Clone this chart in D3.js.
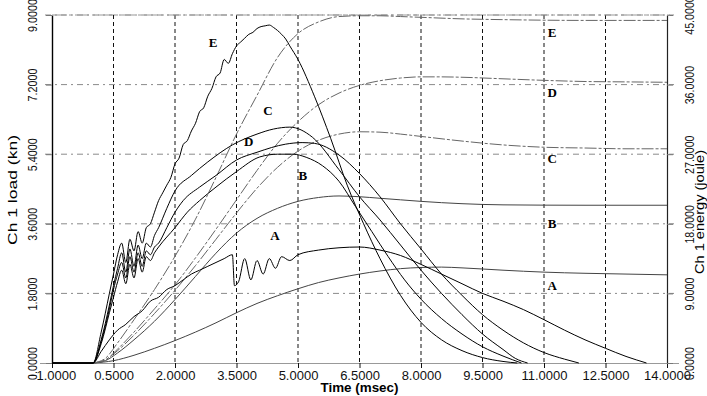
<!DOCTYPE html>
<html>
<head>
<meta charset="utf-8">
<script src="https://cdn.jsdelivr.net/npm/d3@7"></script>
<style>
  body { margin: 0; background: #fff; }
  svg { display: block; font-family: "Liberation Sans", Arial, sans-serif; }
</style>
</head>
<body>
<svg id="chart" width="707" height="396"></svg>
<script>
// ticks
const xTicks = [-1, 0.5, 2, 3.5, 5, 6.5, 8, 9.5, 11, 12.5, 14]
const loadTicks = [0, 1.8, 3.6, 5.4, 7.2, 9]
const energyTicks = [0, 9, 18, 27, 36, 45]

// load curves, [time msec, load kN]
const loadA = [[-1, 0], [0, 0], [0.2, 0.3], [0.4, 0.6], [0.6, 0.85], [0.8, 1.0], [1.0, 1.2], [1.2, 1.35], [1.4, 1.6], [1.6, 1.7], [1.8, 1.9], [2.0, 2.0], [2.2, 2.15], [2.4, 2.3], [2.6, 2.4], [2.8, 2.5], [3.0, 2.6], [3.2, 2.7], [3.4, 2.8], [3.45, 2.0], [3.55, 2.1], [3.7, 2.7], [3.85, 2.15], [4.0, 2.65], [4.15, 2.3], [4.3, 2.7], [4.45, 2.45], [4.6, 2.75], [4.8, 2.65], [5.0, 2.8], [5.5, 2.92], [6.0, 2.98], [6.5, 3.0], [7.0, 2.92], [7.5, 2.78], [8.0, 2.55], [8.5, 2.3], [9.0, 2.05], [9.5, 1.8], [10.0, 1.6], [10.5, 1.38], [11.0, 1.12], [11.5, 0.85], [12.0, 0.6], [12.5, 0.38], [13.0, 0.17], [13.5, 0]]
const loadB = [[-1, 0], [0, 0], [0.2, 0.5], [0.4, 1.3], [0.5, 1.7], [0.6, 2.1], [0.7, 2.4], [0.8, 2.05], [0.9, 2.55], [1.0, 2.2], [1.1, 2.7], [1.2, 2.35], [1.3, 2.75], [1.4, 2.65], [1.5, 2.85], [1.6, 3.0], [2.0, 3.5], [2.3, 3.9], [2.6, 4.2], [3.0, 4.55], [3.5, 4.95], [4.07, 5.33], [4.5, 5.4], [4.88, 5.4], [5.2, 5.32], [5.6, 5.1], [6.0, 4.7], [6.4, 4.05], [6.8, 3.4], [7.2, 2.75], [7.6, 2.15], [8.0, 1.65], [8.5, 1.15], [9.0, 0.75], [9.5, 0.42], [10.0, 0.18], [10.45, 0]]
const loadC = [[-1, 0], [0, 0], [0.2, 0.6], [0.4, 1.5], [0.5, 2.0], [0.6, 2.45], [0.7, 2.85], [0.8, 2.35], [0.9, 2.95], [1.0, 2.5], [1.1, 3.05], [1.2, 2.7], [1.3, 3.1], [1.4, 3.0], [1.5, 3.3], [1.6, 3.5], [1.8, 4.0], [2.0, 4.45], [2.4, 4.85], [2.8, 5.2], [3.4, 5.64], [4.0, 5.92], [4.4, 6.05], [4.8, 6.1], [5.35, 5.84], [6.0, 5.0], [6.5, 4.3], [7.0, 3.7], [7.5, 3.05], [8.0, 2.4], [8.5, 1.8], [9.0, 1.25], [9.5, 0.75], [10.0, 0.35], [10.3, 0.12], [10.6, 0]]
const loadD = [[-1, 0], [0, 0], [0.2, 0.55], [0.4, 1.4], [0.5, 1.9], [0.6, 2.3], [0.7, 2.6], [0.8, 2.2], [0.9, 2.75], [1.0, 2.35], [1.1, 2.85], [1.2, 2.5], [1.3, 2.9], [1.4, 2.8], [1.5, 3.0], [1.6, 3.1], [1.8, 3.5], [2.0, 3.9], [2.2, 4.2], [2.6, 4.55], [3.0, 4.85], [3.5, 5.25], [4.0, 5.45], [4.7, 5.66], [5.1, 5.7], [5.4, 5.68], [6.0, 5.38], [6.5, 4.9], [7.0, 4.3], [7.5, 3.6], [8.0, 2.95], [8.5, 2.3], [9.0, 1.75], [9.5, 1.25], [10.0, 0.85], [10.5, 0.52], [11.0, 0.27], [11.5, 0.1], [11.85, 0]]
const loadE = [[-1, 0], [0, 0], [0.2, 0.8], [0.4, 1.8], [0.5, 2.3], [0.6, 2.8], [0.7, 3.1], [0.8, 2.6], [0.9, 3.2], [1.0, 2.9], [1.1, 3.4], [1.2, 3.1], [1.3, 3.5], [1.4, 3.6], [1.5, 3.9], [1.6, 4.2], [1.7, 4.4], [1.8, 4.6], [1.9, 4.8], [2.0, 5.15], [2.1, 5.3], [2.2, 5.65], [2.3, 5.75], [2.4, 6.0], [2.5, 6.2], [2.6, 6.5], [2.7, 6.6], [2.8, 6.9], [2.9, 7.1], [3.0, 7.4], [3.1, 7.5], [3.2, 7.85], [3.3, 7.75], [3.4, 8.0], [3.5, 8.2], [3.6, 8.3], [3.7, 8.4], [3.8, 8.5], [3.9, 8.55], [4.0, 8.65], [4.1, 8.7], [4.2, 8.72], [4.3, 8.74], [4.4, 8.68], [4.5, 8.6], [4.6, 8.5], [4.7, 8.38], [4.8, 8.2], [5.0, 7.85], [5.4, 6.9], [5.8, 5.8], [6.2, 4.6], [6.6, 3.6], [7.0, 2.7], [7.5, 1.75], [8.0, 1.05], [8.5, 0.6], [9.0, 0.32], [9.5, 0.14], [10.0, 0.04], [10.35, 0]]

// energy curves, [time msec, energy joule]
const energyA = [[0, 0], [0.5, 0.3], [1.0, 1.0], [1.5, 1.9], [2.0, 2.9], [2.5, 4.0], [3.0, 5.2], [3.5, 6.5], [4.0, 7.7], [4.5, 8.7], [5.0, 9.6], [5.5, 10.4], [6.0, 11.0], [6.5, 11.5], [7.0, 11.9], [7.5, 12.2], [8.0, 12.35], [8.5, 12.4], [9.0, 12.3], [10.0, 12.0], [11.0, 11.75], [12.0, 11.6], [13.0, 11.5], [14.0, 11.4]]
const energyB = [[0, 0], [0.3, 0.3], [0.6, 1.3], [1.0, 3.0], [1.5, 5.4], [2.0, 8.2], [2.5, 11.2], [3.0, 14.2], [3.5, 16.8], [4.0, 18.7], [4.5, 20.0], [5.0, 20.9], [5.5, 21.4], [6.0, 21.6], [6.5, 21.5], [7.0, 21.3], [7.5, 21.1], [8.0, 20.9], [9.0, 20.6], [10.0, 20.45], [12.0, 20.4], [14.0, 20.4]]
const energyC = [[0, 0], [0.3, 0.4], [0.6, 1.6], [1.0, 3.6], [1.5, 6.4], [2.0, 9.4], [2.5, 12.6], [3.0, 16.0], [3.5, 19.4], [4.0, 22.6], [4.5, 25.3], [5.0, 27.4], [5.5, 28.8], [6.0, 29.6], [6.5, 29.9], [7.0, 29.85], [7.5, 29.6], [8.0, 29.3], [9.0, 28.7], [10.0, 28.2], [11.0, 27.9], [12.0, 27.8], [13.0, 27.7], [14.0, 27.7]]
const energyD = [[0, 0], [0.3, 0.4], [0.6, 1.8], [1.0, 4.0], [1.5, 7.0], [2.0, 10.1], [2.5, 13.6], [3.0, 17.3], [3.5, 21.1], [4.0, 24.9], [4.5, 28.4], [5.0, 31.2], [5.5, 33.4], [6.0, 34.9], [6.5, 35.9], [7.0, 36.5], [7.5, 36.85], [8.0, 37.0], [8.5, 37.0], [9.0, 36.95], [10.0, 36.75], [11.0, 36.55], [12.0, 36.4], [13.0, 36.35], [14.0, 36.3]]
const energyE = [[0, 0], [0.3, 0.6], [0.6, 2.6], [1.0, 5.6], [1.5, 9.5], [2.0, 13.8], [2.5, 18.6], [3.0, 24.0], [3.5, 29.6], [4.0, 34.6], [4.5, 39.5], [5.0, 42.6], [5.5, 44.1], [6.0, 44.8], [6.5, 44.9], [7.0, 44.9], [7.5, 44.8], [8.0, 44.7], [9.0, 44.5], [10.0, 44.4], [12.0, 44.3], [14.0, 44.3]]

const seriesNames = ['A', 'B', 'C', 'D', 'E']
const loads = [loadA, loadB, loadC, loadD, loadE]
const energies = [energyA, energyB, energyC, energyD, energyE]
// label anchor points in data units
const loadLabels = [[4.44, 3.31], [5.12, 4.86], [4.27, 6.52], [3.8, 5.74], [2.93, 8.28]]
const energyLabels = [[11.2, 10.0], [11.2, 18.0], [11.2, 26.4], [11.2, 35.0], [11.2, 42.7]]

const svg = d3.select('#chart')
const plotLeft = 52, plotRight = 667, plotTop = 15, plotBottom = 363

const x = d3.scaleLinear().domain([-1, 14]).range([plotLeft, plotRight])
const yLoad = d3.scaleLinear().domain([0, 9]).range([plotBottom, plotTop])
const yEnergy = d3.scaleLinear().domain([0, 45]).range([plotBottom, plotTop])
const fmt = d3.format('.4f')

// grid
const grid = svg.append('g')
grid.selectAll('.hgrid')
	.data(loadTicks.slice(1))
	.enter()
	.append('line')
	.attr('x1', 45).attr('x2', 674)
	.attr('y1', d => yLoad(d)).attr('y2', d => yLoad(d))
	.attr('stroke', '#8a8a8a')
	.attr('stroke-width', 1)
	.attr('stroke-dasharray', '6,4,2,4')

grid.selectAll('.vgrid')
	.data(xTicks.slice(1, -1))
	.enter()
	.append('line')
	.attr('x1', d => x(d)).attr('x2', d => x(d))
	.attr('y1', plotTop).attr('y2', plotBottom)
	.attr('stroke', '#111')
	.attr('stroke-width', 1)
	.attr('stroke-dasharray', '4,3')

// axes
const xAxis = svg.append('g')
	.attr('transform', `translate(0,${plotBottom})`)
	.call(d3.axisBottom(x).tickValues(xTicks).tickFormat(fmt).tickSize(5).tickSizeOuter(0))
xAxis.select('.domain').attr('stroke', '#999').attr('d', `M${plotLeft - 12},0.5H${plotRight + 12}`)
xAxis.selectAll('.tick line').attr('stroke', '#111')
xAxis.selectAll('text').attr('font-size', 13).attr('fill', '#111').attr('font-family', '"Liberation Sans", Arial, sans-serif')

const rotLabel = (sel, dx) => {
	sel.selectAll('text')
		.attr('x', null).attr('dy', null)
		.attr('transform', `translate(${dx},0) rotate(-90)`)
		.attr('text-anchor', 'middle')
		.attr('font-size', 13)
		.attr('fill', '#111')
		.attr('font-family', '"Liberation Sans", Arial, sans-serif')
		.attr('textLength', function () { return this.textContent.length * 5.5 })
		.attr('lengthAdjust', 'spacingAndGlyphs')
}

const yAxisL = svg.append('g')
	.attr('transform', `translate(${plotLeft},0)`)
	.call(d3.axisLeft(yLoad).tickValues(loadTicks).tickFormat(fmt).tickSize(6).tickSizeOuter(0))
yAxisL.select('.domain').attr('stroke', '#000').attr('stroke-width', 1.4)
yAxisL.selectAll('.tick line').attr('stroke', '#777')
rotLabel(yAxisL, -15)

const yAxisR = svg.append('g')
	.attr('transform', `translate(${plotRight},0)`)
	.call(d3.axisRight(yEnergy).tickValues(energyTicks).tickFormat(fmt).tickSize(6).tickSizeOuter(0))
yAxisR.select('.domain').attr('stroke', '#222').attr('stroke-width', 1.2)
yAxisR.selectAll('.tick line').attr('stroke', '#777')
rotLabel(yAxisR, 27)

// top border
svg.append('line')
	.attr('x1', plotLeft).attr('x2', plotRight + 6)
	.attr('y1', plotTop).attr('y2', plotTop)
	.attr('stroke', '#999')
	.attr('stroke-dasharray', '14,3,3,3')

// axis titles
svg.append('text')
	.attr('transform', 'translate(17,190) rotate(-90)')
	.attr('text-anchor', 'middle')
	.attr('font-size', 13)
	.attr('textLength', 110).attr('lengthAdjust', 'spacingAndGlyphs')
	.text('Ch 1 load (kn)')
svg.append('text')
	.attr('transform', 'translate(704,212) rotate(-90)')
	.attr('text-anchor', 'middle')
	.attr('font-size', 13)
	.attr('textLength', 124).attr('lengthAdjust', 'spacingAndGlyphs')
	.text('Ch 1 energy (joule)')
svg.append('text')
	.attr('x', x(6.5)).attr('y', 392)
	.attr('text-anchor', 'middle')
	.attr('font-size', 13)
	.attr('font-weight', 'bold')
	.attr('textLength', 78).attr('lengthAdjust', 'spacingAndGlyphs')
	.text('Time (msec)')

// curves
const lineLoad = d3.line().x(d => x(d[0])).y(d => yLoad(d[1])).curve(d3.curveMonotoneX)
const lineEnergy = d3.line().x(d => x(d[0])).y(d => yEnergy(d[1])).curve(d3.curveMonotoneX)

svg.append('g')
	.selectAll('path')
	.data(energies)
	.enter()
	.append('path')
	.attr('d', d => lineEnergy(d))
	.attr('fill', 'none')
	.attr('stroke', (d, i) => i < 2 ? '#444' : '#666')
	.attr('stroke-width', 1)
	.attr('stroke-dasharray', (d, i) => i < 2 ? null : '12,2,3,2')

svg.append('g')
	.selectAll('path')
	.data(loads)
	.enter()
	.append('path')
	.attr('d', d => lineLoad(d))
	.attr('fill', 'none')
	.attr('stroke', '#000')
	.attr('stroke-width', 1)

// series labels
const labelFont = '"Liberation Serif", "DejaVu Serif", serif'
svg.append('g')
	.selectAll('text')
	.data(loadLabels)
	.enter()
	.append('text')
	.attr('x', d => x(d[0])).attr('y', d => yLoad(d[1]))
	.attr('text-anchor', 'middle').attr('dy', '0.35em')
	.attr('font-family', labelFont).attr('font-weight', 'bold').attr('font-size', 13)
	.text((d, i) => seriesNames[i])

svg.append('g')
	.selectAll('text')
	.data(energyLabels)
	.enter()
	.append('text')
	.attr('x', d => x(d[0])).attr('y', d => yEnergy(d[1]))
	.attr('text-anchor', 'middle').attr('dy', '0.35em')
	.attr('font-family', labelFont).attr('font-weight', 'bold').attr('font-size', 13)
	.text((d, i) => seriesNames[i])
</script>
</body>
</html>
